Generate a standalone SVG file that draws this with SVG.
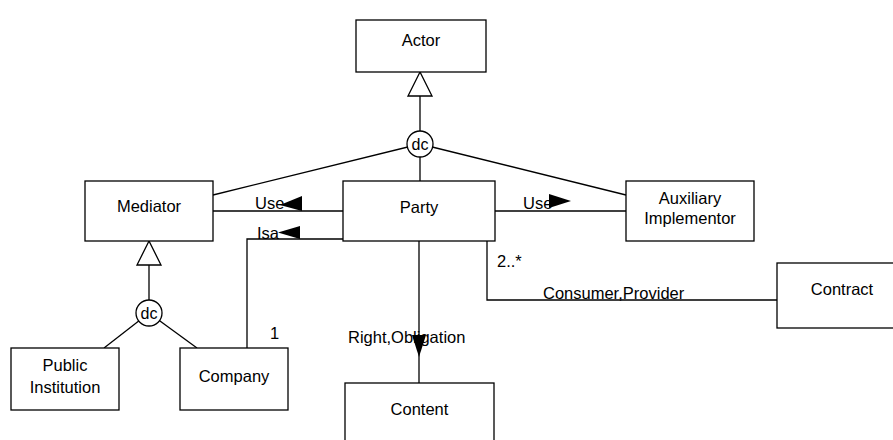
<svg xmlns="http://www.w3.org/2000/svg" width="893" height="440" viewBox="0 0 893 440">
<style>
.box{fill:#fff;stroke:#000;stroke-width:1.3}
.ln{fill:none;stroke:#000;stroke-width:1.3}
.gen{fill:#fff;stroke:#000;stroke-width:1.3}
.ah{fill:#000;stroke:none}
.dc{fill:#fff;stroke:#000;stroke-width:1.3}
text{font-family:"Liberation Sans",Arial,Helvetica,sans-serif;font-size:16.5px;fill:#000}
.c{text-anchor:middle}
</style>
<rect width="893" height="440" fill="#fff"/>
<g id="connectors">
<line class="ln" x1="420" y1="96" x2="420" y2="144"/>
<line class="ln" x1="420" y1="144" x2="213" y2="195"/>
<line class="ln" x1="420" y1="144" x2="420" y2="181"/>
<line class="ln" x1="420" y1="144" x2="626" y2="195"/>
<polygon class="gen" points="420,72 408,96 432,96"/>
<line class="ln" x1="213" y1="211" x2="343" y2="211"/>
<line class="ln" x1="495" y1="211" x2="626" y2="211"/>
<polyline class="ln" points="343,239 247,239 247,348"/>
<line class="ln" x1="149" y1="265" x2="149" y2="313"/>
<line class="ln" x1="149" y1="313" x2="104" y2="348"/>
<line class="ln" x1="149" y1="313" x2="197" y2="348"/>
<polygon class="gen" points="149,241 137,265 161,265"/>
<line class="ln" x1="419" y1="241" x2="419" y2="383"/>
<polyline class="ln" points="487,241 487,300 777,300"/>
<text x="255" y="209">Use</text>
<text x="523" y="208.5">Use</text>
<text x="257" y="239">Isa</text>
<text x="270" y="339">1</text>
<text x="497" y="266.5">2..*</text>
<text x="543" y="298.5">Consumer,Provider</text>
<text x="348" y="342.5">Right,Obligation</text>
<polygon class="ah" points="280,205 302,196 302,211"/>
<polygon class="ah" points="571,201 549,194 549,208"/>
<polygon class="ah" points="278,232.5 300,226 300,239"/>
<polygon class="ah" points="412,335 426,335 419,357"/>
</g>
<g id="dc-top">
<circle class="dc" cx="420" cy="144" r="13"/>
<text class="c" x="420" y="150" style="font-size:16px">dc</text>
</g>
<g id="dc-bottom">
<circle class="dc" cx="149" cy="313" r="13"/>
<text class="c" x="149" y="319" style="font-size:16px">dc</text>
</g>
<g id="actor">
<rect class="box" x="356" y="20" width="130" height="52"/>
<text class="c" x="421" y="46.3">Actor</text>
</g>
<g id="mediator">
<rect class="box" x="85" y="181" width="128" height="60"/>
<text class="c" x="149" y="212">Mediator</text>
</g>
<g id="party">
<rect class="box" x="343" y="181" width="152" height="60"/>
<text class="c" x="419" y="212.5">Party</text>
</g>
<g id="auxiliary-implementor">
<rect class="box" x="626" y="181" width="128" height="60"/>
<text class="c" x="690" y="203.5">Auxiliary</text>
<text class="c" x="690" y="223.5">Implementor</text>
</g>
<g id="public-institution">
<rect class="box" x="11" y="348" width="108" height="62"/>
<text class="c" x="65" y="371">Public</text>
<text class="c" x="65" y="392.5">Institution</text>
</g>
<g id="company">
<rect class="box" x="180" y="348" width="108" height="62"/>
<text class="c" x="234" y="381.5">Company</text>
</g>
<g id="contract">
<rect class="box" x="777" y="263" width="130" height="65"/>
<text class="c" x="842" y="295">Contract</text>
</g>
<g id="content">
<rect class="box" x="345" y="383" width="149" height="70"/>
<text class="c" x="419.5" y="415">Content</text>
</g>
</svg>
